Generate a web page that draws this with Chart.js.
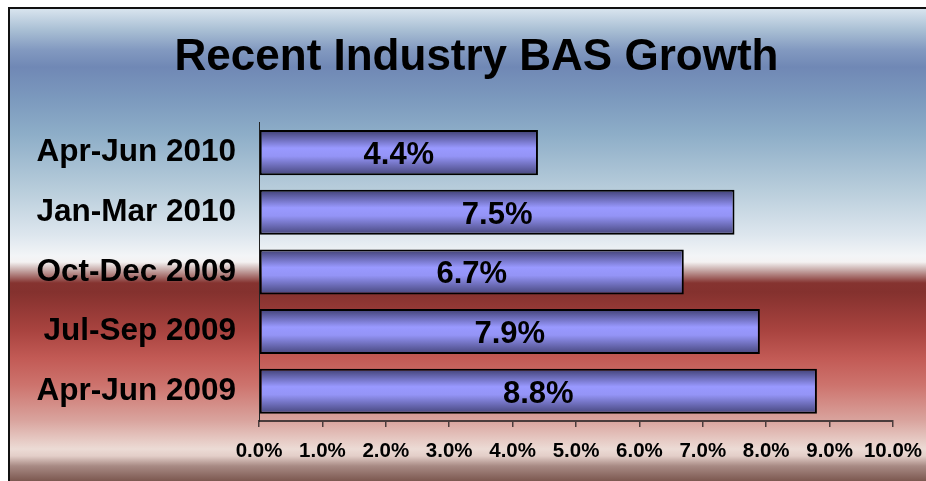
<!DOCTYPE html>
<html>
<head>
<meta charset="utf-8">
<script src="https://cdn.jsdelivr.net/npm/chart.js@4.4.0/dist/chart.umd.min.js"></script>
<style>
  html, body { margin: 0; padding: 0; background: #fff; }
  #wrap { width: 926px; height: 481px; }
</style>
</head>
<body>
<div id="wrap"><canvas id="growthChart" width="926" height="481"></canvas></div>
<script>
// data
const quarters = ['Apr-Jun 2010', 'Jan-Mar 2010', 'Oct-Dec 2009', 'Jul-Sep 2009', 'Apr-Jun 2009'];
const growth = [4.4, 7.5, 6.7, 7.9, 8.8];
const xTicks = [0, 1, 2, 3, 4, 5, 6, 7, 8, 9, 10];

const FONT = 'Arial, "Liberation Sans", Helvetica, sans-serif';

// page-style background + frame
const backdrop = {
  id: 'backdrop',
  beforeDraw(chart) {
    const c = chart.ctx;
    const w = chart.width, h = chart.height;
    const top = 9, left = 10;
    const g = c.createLinearGradient(0, top, 0, h);
    const stops = [
      [9, '#d8e4ee'], [30, '#a9bfd4'], [50, '#8299c0'], [67, '#7088b5'],
      [100, '#7c9abe'], [135, '#8eaec8'], [190, '#b8cddb'], [235, '#dde6ee'],
      [256, '#f3f5f7'], [262, '#f4f2f2'], [270, '#c7aaa8'], [283, '#853330'],
      [292, '#84312e'], [330, '#a8433f'], [358, '#c25a55'], [385, '#cd736d'],
      [420, '#d9a39d'], [449, '#ecdbd5'], [456, '#e3cec8'], [466, '#a88a84'],
      [481, '#7c5850']
    ];
    stops.forEach(([y, col]) => g.addColorStop((y - top) / (h - top), col));
    c.save();
    c.fillStyle = '#fff';
    c.fillRect(0, 0, w, h);
    c.fillStyle = g;
    c.fillRect(left, top, w - left, h - top);
    c.strokeStyle = '#111';
    c.lineWidth = 2;
    c.beginPath();
    c.moveTo(left - 1, h);
    c.lineTo(left - 1, top - 1);
    c.lineTo(w, top - 1);
    c.stroke();
    c.restore();
  }
};

// value labels centred inside each bar
const barLabels = {
  id: 'barLabels',
  afterDatasetsDraw(chart) {
    const c = chart.ctx;
    const meta = chart.getDatasetMeta(0);
    c.save();
    c.font = 'bold 31px ' + FONT;
    c.fillStyle = '#000';
    c.textAlign = 'center';
    c.textBaseline = 'middle';
    meta.data.forEach((bar, i) => {
      const cx = (bar.x + bar.base) / 2;
      c.fillText(growth[i].toFixed(1) + '%', cx, bar.y + 3);
    });
    c.restore();
  }
};

function barFill(context) {
  const chart = context.chart;
  const yScale = chart.scales && chart.scales.y;
  if (!yScale || context.dataIndex === undefined) return '#9999ff';
  const centre = yScale.getPixelForValue(context.dataIndex);
  const half = (yScale.height / quarters.length) * 0.755 / 2;
  if (!isFinite(centre) || !isFinite(half) || half <= 0) return '#9999ff';
  const g = chart.ctx.createLinearGradient(0, centre - half, 0, centre + half);
  g.addColorStop(0, '#3f3f72');
  g.addColorStop(0.4, '#9999ff');
  g.addColorStop(0.58, '#9494f6');
  g.addColorStop(1, '#45457a');
  return g;
}

new Chart(document.getElementById('growthChart'), {
  type: 'bar',
  data: {
    labels: quarters,
    datasets: [{
      data: growth,
      backgroundColor: barFill,
      borderColor: '#000',
      borderWidth: 2,
      borderSkipped: false,
      barPercentage: 0.755,
      categoryPercentage: 1
    }]
  },
  options: {
    indexAxis: 'y',
    responsive: false,
    animation: false,
    layout: { padding: { left: 27, right: 0, top: 0, bottom: 0 } },
    plugins: {
      legend: { display: false },
      tooltip: { enabled: false },
      title: {
        display: true,
        text: 'Recent Industry BAS Growth',
        color: '#000',
        font: { family: FONT, size: 44, weight: 'bold' },
        padding: { top: 31, bottom: 39 }
      }
    },
    scales: {
      x: {
        min: 0,
        max: 10,
        afterBuildTicks(scale) {
          scale.ticks = xTicks.map(v => ({ value: v }));
        },
        afterFit(scale) {
          scale.height = 60;
          scale.paddingLeft = 0;
          scale.paddingRight = 33;
        },
        grid: {
          drawOnChartArea: false,
          drawTicks: true,
          tickLength: 6,
          color: '#4a3c3c',
          lineWidth: 1.5
        },
        border: { display: true, color: '#4a3c3c', width: 2 },
        ticks: {
          color: '#000',
          padding: 12,
          maxRotation: 0,
          minRotation: 0,
          autoSkip: false,
          font: { family: FONT, size: 20.5, weight: 'bold' },
          callback: v => v.toFixed(1) + '%'
        }
      },
      y: {
        afterFit(scale) { scale.width = 232; },
        grid: { display: false, drawTicks: false },
        border: { display: true, color: '#222', width: 1 },
        ticks: {
          color: '#000',
          padding: 23,
          font: { family: FONT, size: 31.5, weight: 'bold' }
        }
      }
    }
  },
  plugins: [backdrop, barLabels]
});
</script>
</body>
</html>
